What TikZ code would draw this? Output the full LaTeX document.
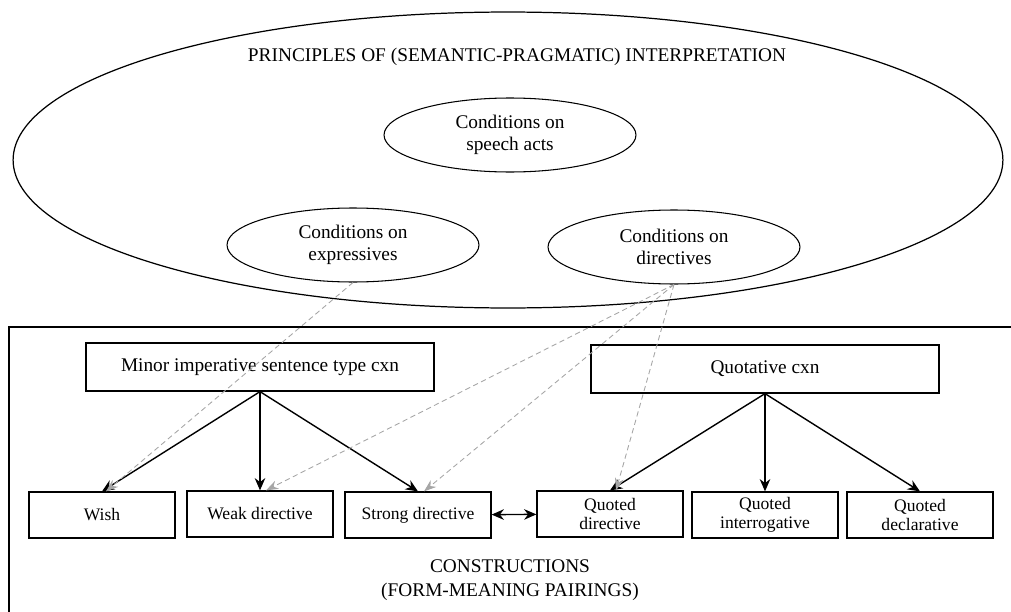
\documentclass[tikz,border=0pt]{standalone}
\usepackage{fontspec}
\setmainfont{Liberation Serif}
\usetikzlibrary{arrows.meta,shapes.geometric}
\begin{document}
\begin{tikzpicture}[x=0.02cm,y=-0.02cm,
  cxnbox/.style={draw, line width=0.7pt, minimum width=6.96cm, minimum height=0.96cm, font=\fontsize{11}{13}\selectfont},
  subbox/.style={draw, line width=0.7pt, minimum width=2.92cm, minimum height=0.92cm, align=center, inner sep=1pt, font=\fontsize{10}{10.5}\selectfont},
  condition/.style={draw, ellipse, line width=0.6pt, minimum width=5.04cm, minimum height=1.48cm, align=center, inner sep=0pt, font=\fontsize{11}{12.5}\selectfont},
  isa/.style={-{Stealth[length=7pt,width=6pt]}, line width=0.8pt},
  cue/.style={-{Stealth[length=7pt,width=5pt]}, densely dashed, gray!70, line width=0.5pt}]
\useasboundingbox (0,0) rectangle (1011,612);

% interpretation
\node[draw, ellipse, line width=0.7pt, minimum width=19.8cm, minimum height=5.92cm] (principles) at (508,160) {};
\node[font=\fontsize{11}{13}\selectfont] (ptitle) at (517,57) {PRINCIPLES OF (SEMANTIC-PRAGMATIC) INTERPRETATION};
\node[condition] (speech) at (510,135) {Conditions on\\speech acts};
\node[condition] (expr) at (353,245) {Conditions on\\expressives};
\node[condition] (dirs) at (674,247) {Conditions on\\directives};

% constructions
\draw[line width=0.7pt] (1011,327) -- (9,327) -- (9,612);
\node[cxnbox] (minor) at (260,367) {Minor imperative sentence type cxn};
\node[cxnbox] (quot) at (765,369) {Quotative cxn};
\node[subbox] (wish) at (102,515) {Wish};
\node[subbox] (weak) at (260,514) {Weak directive};
\node[subbox] (strong) at (418,515) {Strong directive};
\node[subbox] (qdir) at (610,514) {Quoted\\directive};
\node[subbox] (qint) at (765,515) {Quoted\\interrogative};
\node[subbox] (qdecl) at (920,515) {Quoted\\declarative};
\node[align=center, font=\fontsize{11}{14}\selectfont] (cxns) at (510,580) {CONSTRUCTIONS\\(FORM-MEANING PAIRINGS)};

\foreach \t in {wish,weak,strong} \draw[isa] (minor.south) -- (\t.north);
\foreach \t in {qdir,qint,qdecl} \draw[isa] (quot.south) -- (\t.north);
\draw[{Stealth[length=7pt,width=6pt]}-{Stealth[length=7pt,width=6pt]}, line width=0.8pt] (strong) -- (qdir);

% links from conditions
\draw[cue] (expr.south) -- ([xshift=0.08cm]wish.north);
\foreach \t in {weak,strong,qdir} \draw[cue] (dirs.south) -- ([xshift=0.12cm]\t.north);
\end{tikzpicture}
\end{document}
